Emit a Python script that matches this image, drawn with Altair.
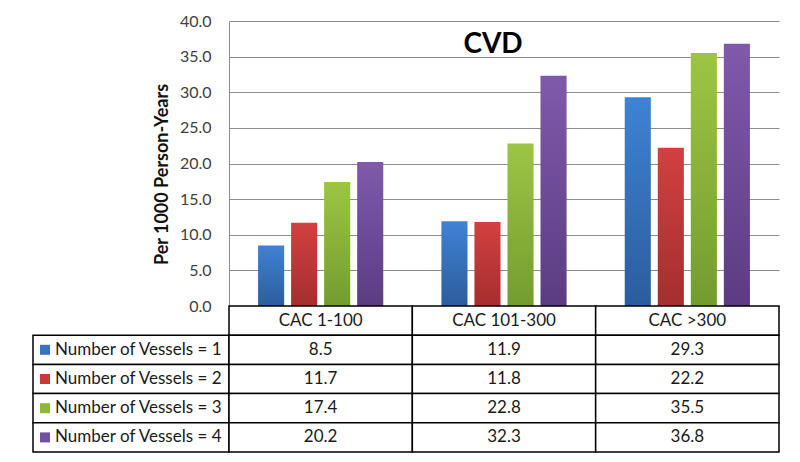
import altair as alt
import pandas as pd

# ---------------- data ----------------
categories = ["CAC 1-100", "CAC 101-300", "CAC >300"]
series = [
    "Number of Vessels = 1",
    "Number of Vessels = 2",
    "Number of Vessels = 3",
    "Number of Vessels = 4",
]
vessels_1 = [8.5, 11.9, 29.3]
vessels_2 = [11.7, 11.8, 22.2]
vessels_3 = [17.4, 22.8, 35.5]
vessels_4 = [20.2, 32.3, 36.8]
series_values = [vessels_1, vessels_2, vessels_3, vessels_4]
y_ticks = [0, 5, 10, 15, 20, 25, 30, 35, 40]
chart_title = "CVD"
y_title = "Per 1000 Person-Years"

# ---------------- styles ----------------
FONT = "Lato"
top_colors = ["#3f82d4", "#d24040", "#9dc543", "#8059ab"]
bottom_colors = ["#2b5d9c", "#a52e2e", "#739c30", "#5b3c82"]
square_colors = ["#3a74c0", "#c63a3a", "#8cb83b", "#7050a0"]

rows = []
for s, vals in zip(series, series_values):
    for c, v in zip(categories, vals):
        rows.append({"series": s, "category": c, "value": v, "text": f"{v:.1f}"})
df = pd.DataFrame(rows)

header_df = pd.DataFrame({"series": ["hdr"] * len(categories), "category": categories, "text": categories})
table_df = pd.concat([header_df, df[["series", "category", "text"]]], ignore_index=True)
row_domain = ["hdr"] + series

label_df = pd.DataFrame({"series": series, "col": ["lbl"] * len(series), "text": series})
title_df = pd.DataFrame({"text": [chart_title]})

# ---------------- bars ----------------
x_scale = alt.Scale(domain=categories, paddingInner=0, paddingOuter=0)
xo_scale = alt.Scale(domain=series, paddingInner=0.21, paddingOuter=0.88)
y_scale = alt.Scale(domain=[0, 40], nice=False)

y_axis = alt.Axis(
    values=y_ticks, format=".1f", grid=True, gridColor="#8c8c8c", gridWidth=1,
    domain=True, domainColor="#8c8c8c", ticks=False, labelPadding=18,
    labelFont=FONT, labelFontSize=16, labelColor="#404040",
    title=y_title, titleFont=FONT, titleFontSize=18, titleFontWeight="bold",
    titleColor="#111111", titleAngle=270, titleX=-67, titleY=153,
    titleAlign="center", titleBaseline="middle",
)

bar_layers = []
for i, s in enumerate(series):
    grad = alt.Gradient(
        gradient="linear", x1=0, x2=0, y1=0, y2=1,
        stops=[alt.GradientStop(color=top_colors[i], offset=0),
               alt.GradientStop(color=bottom_colors[i], offset=1)],
    )
    bar_layers.append(
        alt.Chart(df).transform_filter(alt.datum.series == s).mark_bar(fill=grad).encode(
            x=alt.X("category:N", scale=x_scale, axis=None, sort=categories),
            xOffset=alt.XOffset("series:N", scale=xo_scale, sort=series),
            y=alt.Y("value:Q", scale=y_scale, axis=y_axis),
        )
    )

# chart title drawn inside the plot area, as in the reference
title_layer = alt.Chart(title_df).mark_text(
    font=FONT, fontSize=28, fontWeight="bold", color="#000000",
    align="center", baseline="alphabetic",
).encode(text="text:N", x=alt.value(264), y=alt.value(32))

bars = alt.layer(*bar_layers, title_layer).properties(width=550, height=285)

spacer = alt.Chart(pd.DataFrame({"v": [0]})).mark_point(opacity=0).properties(width=196, height=285)

# ---------------- table ----------------
row_scale = alt.Scale(domain=row_domain, paddingInner=0, paddingOuter=0)
tx_scale = alt.Scale(domain=categories, paddingInner=0, paddingOuter=0)

tbl_base = alt.Chart(table_df).encode(
    x=alt.X("category:N", scale=tx_scale, axis=None, sort=categories),
    y=alt.Y("series:N", scale=row_scale, axis=None, sort=row_domain),
)
table = alt.layer(
    tbl_base.mark_rect(fill="white", stroke="#000000", strokeWidth=1.5),
    tbl_base.mark_text(font=FONT, fontSize=17, color="#1a1a1a").encode(text="text:N"),
).properties(width=550, height=146)

lbl_x = alt.Scale(domain=["lbl"], paddingInner=0, paddingOuter=0)
lbl_base = alt.Chart(label_df).encode(
    y=alt.Y("series:N", scale=row_scale, axis=None, sort=row_domain),
)
labels = alt.layer(
    lbl_base.mark_rect(fill="white", stroke="#000000", strokeWidth=1.5).encode(
        x=alt.X("col:N", scale=lbl_x, axis=None)),
    lbl_base.mark_square(size=100, xOffset=12, opacity=1).encode(
        x=alt.X("col:N", scale=lbl_x, axis=None, bandPosition=0),
        color=alt.Color("series:N", scale=alt.Scale(domain=series, range=square_colors), legend=None)),
    lbl_base.mark_text(font=FONT, fontSize=17, color="#1a1a1a", align="left", dx=22).encode(
        x=alt.X("col:N", scale=lbl_x, axis=None, bandPosition=0), text="text:N"),
).properties(width=196, height=146)

chart = alt.concat(spacer, bars, labels, table, columns=2, spacing=0, bounds="flush").properties(
    padding={"left": 24, "top": 5, "right": 10, "bottom": 4},
).configure_view(strokeWidth=0).resolve_scale(color="independent")

chart.save("out.html", embed_options={"renderer": "svg", "actions": False})
